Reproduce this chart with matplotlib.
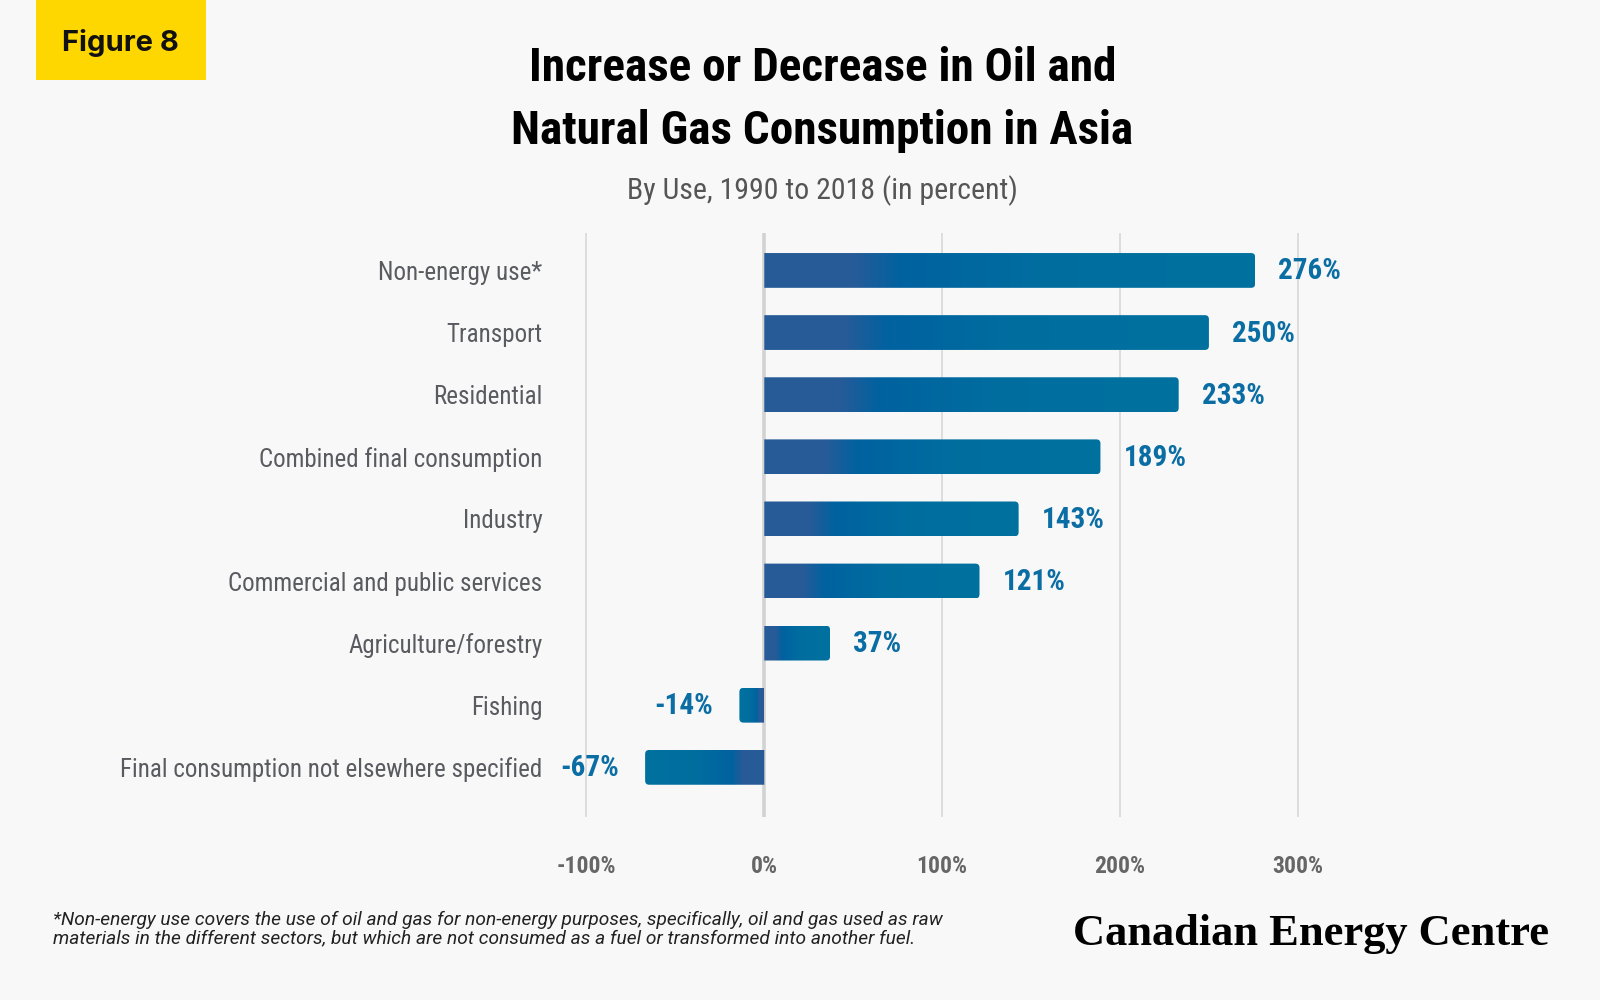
import numpy as np
import matplotlib
matplotlib.use("Agg")
import matplotlib.pyplot as plt
from matplotlib.path import Path
from matplotlib.patches import PathPatch, Rectangle
from matplotlib.colors import LinearSegmentedColormap

categories = ["Non-energy use*", "Transport", "Residential", "Combined final consumption",
              "Industry", "Commercial and public services", "Agriculture/forestry",
              "Fishing", "Final consumption not elsewhere specified"]
values = [276, 250, 233, 189, 143, 121, 37, -14, -67]
value_labels = ["276%", "250%", "233%", "189%", "143%", "121%", "37%", "-14%", "-67%"]
xticks = [-100, 0, 100, 200, 300]
xtick_labels = ["-100%", "0%", "100%", "200%", "300%"]

COND = ["Roboto Condensed", "Liberation Sans Narrow", "DejaVu Sans Condensed", "DejaVu Sans"]
BG = "#F8F8F8"
BLUE_TXT = "#0A6DA3"
GREY_TXT = "#5A5B60"

plt.rcParams["font.family"] = COND

fig = plt.figure(figsize=(16, 10), dpi=100, facecolor=BG)
W, H = 1568.0, 980.0

# axes placement (reference pixel geometry)
x_lo, x_hi = -120, 340
px_per_unit = 1.743
ax_left_px = 749 - 120 * px_per_unit
ax_right_px = 749 + 340 * px_per_unit
ax_top_px, ax_bot_px = 228.5, 800.7
ax = fig.add_axes([ax_left_px / W, 1 - ax_bot_px / H,
                   (ax_right_px - ax_left_px) / W, (ax_bot_px - ax_top_px) / H])
ax.set_facecolor(BG)
for s in ax.spines.values():
    s.set_visible(False)

ylo, yhi = 8.8, -0.6
for t in xticks:
    if t == 0:
        ax.axvline(t, color="#D2D2D2", lw=2.6, zorder=3)
    else:
        ax.axvline(t, color="#DDDDDD", lw=1.4, zorder=0)

cmap = LinearSegmentedColormap.from_list("bar", [
    (0.0, "#285C99"), (0.18, "#275B98"), (0.28, "#0062A0"),
    (0.55, "#006D9F"), (1.0, "#0072A0")])
grad = np.linspace(0, 1, 256).reshape(1, -1)

bar_h = 0.56
ry = 4.0 / 60.9
rx = 4.0 / px_per_unit


def bar_path(v, yc):
    sgn = 1 if v >= 0 else -1
    x0, x1 = 0.0, float(v)
    yb, yt = yc - bar_h / 2, yc + bar_h / 2
    r_x = min(rx, abs(v) / 2)
    verts = [(x0, yb), (x1 - sgn * r_x, yb), (x1, yb), (x1, yb + ry),
             (x1, yt - ry), (x1, yt), (x1 - sgn * r_x, yt), (x0, yt), (x0, yb)]
    codes = [Path.MOVETO, Path.LINETO, Path.CURVE3, Path.CURVE3,
             Path.LINETO, Path.CURVE3, Path.CURVE3, Path.LINETO, Path.CLOSEPOLY]
    return Path(verts, codes)


ypos = np.arange(len(categories))
for i, (v, lab) in enumerate(zip(values, value_labels)):
    im = ax.imshow(grad, cmap=cmap, aspect="auto", interpolation="bilinear",
                   extent=[0, v, i + bar_h / 2, i - bar_h / 2], zorder=4)
    patch = PathPatch(bar_path(v, i), facecolor="none", edgecolor="none")
    ax.add_patch(patch)
    im.set_clip_path(patch)
    off = 23 if v >= 0 else -26
    ax.annotate(lab, xy=(v, i), xytext=(off, -1), textcoords="offset pixels",
                ha="left" if v >= 0 else "right", va="center",
                fontsize=21, fontweight="bold", color=BLUE_TXT)

ax.set_xlim(x_lo, x_hi)
ax.set_ylim(ylo, yhi)
ax.set_yticks(ypos)
ax.set_yticklabels(categories, fontsize=18, color=GREY_TXT)
ax.set_xticks(xticks)
ax.set_xticklabels(xtick_labels, fontsize=17, color="#666666", fontweight="bold")
ax.tick_params(axis="y", length=0, pad=6)
ax.tick_params(axis="x", length=0, pad=27)

# Figure tag
fig.patches.append(Rectangle((35 / W, 1 - 78 / H), 167 / W, 78 / H,
                             transform=fig.transFigure, facecolor="#FFD700",
                             edgecolor="none", zorder=0))
fig.text(118.5 / W, 1 - 42 / H, "Figure 8", ha="center", va="center", fontsize=21,
         fontweight="bold", color="#111111", family=["Inter", "Roboto", "DejaVu Sans"])

# Titles
fig.text(806 / W, 1 - 67 / H, "Increase or Decrease in Oil and", ha="center", va="center",
         fontsize=34, fontweight="bold", color="#000000")
fig.text(806 / W, 1 - 128 / H, "Natural Gas Consumption in Asia", ha="center", va="center",
         fontsize=34, fontweight="bold", color="#000000")
fig.text(806 / W, 1 - 187 / H, "By Use, 1990 to 2018 (in percent)", ha="center", va="center",
         fontsize=21.5, color="#555555")

# Footnote
fn = ["*Non-energy use covers the use of oil and gas for non-energy purposes, specifically, oil and gas used as raw",
      "materials in the different sectors, but which are not consumed as a fuel or transformed into another fuel."]
for k, line in enumerate(fn):
    fig.text(52 / W, 1 - (902 + 18 * k) / H, line, ha="left", va="center", fontsize=13.8,
             style="italic", color="#222222", family=["Roboto", "DejaVu Sans"])

# Logo
fig.text(1518 / W, 1 - 915 / H, "Canadian Energy Centre", ha="right", va="center",
         fontsize=32, fontweight="bold", color="#000000",
         family=["Liberation Serif", "DejaVu Serif"])

fig.savefig("out.png", dpi=100, facecolor=BG)
